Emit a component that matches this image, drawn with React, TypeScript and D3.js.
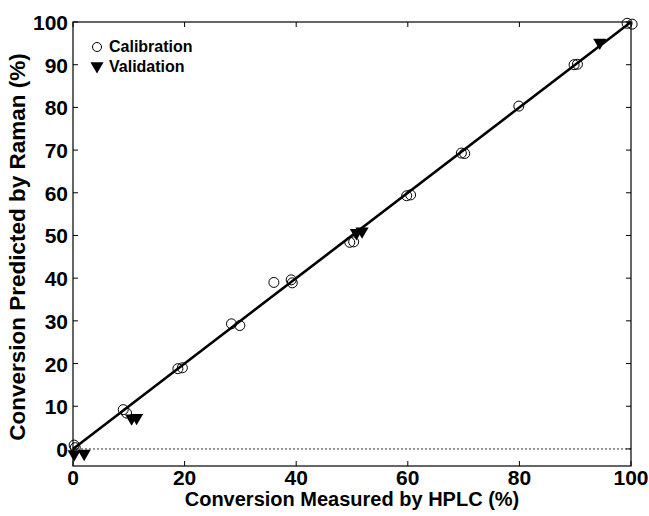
import React, { useEffect, useRef } from 'react';
import * as d3 from 'd3';

// calibration points (HPLC %, Raman %)
const calHplc = [0.2, 0.4, 9.0, 9.6, 18.8, 19.6, 28.4, 29.9, 36.0, 39.1, 39.3, 49.6, 50.3, 59.8, 60.5, 69.6, 70.2, 79.9, 89.8, 90.4, 99.3, 100.2];
const calRaman = [0.9, 0.3, 9.2, 8.4, 18.8, 19.0, 29.3, 28.9, 39.0, 39.6, 38.9, 48.4, 48.5, 59.3, 59.5, 69.3, 69.2, 80.3, 90.0, 90.1, 99.7, 99.5];

// validation points
const valHplc = [0.2, 2.0, 10.5, 11.4, 50.8, 51.8, 94.4];
const valRaman = [-1.2, -1.1, 7.2, 7.3, 50.6, 51.0, 95.2];

const xTicks = [0, 20, 40, 60, 80, 100];
const yTicks = [0, 10, 20, 30, 40, 50, 60, 70, 80, 90, 100];

const App = () => {
  const ref = useRef(null);

  useEffect(() => {
    d3.select(ref.current).select('svg').remove();

    const width = 649;
    const height = 516;
    const m = { top: 22, right: 18, bottom: 50, left: 73 };
    const font = '"Liberation Sans", Arial, sans-serif';

    const svg = d3.select(ref.current)
      .append('svg')
      .attr('width', width)
      .attr('height', height)
      .style('position', 'absolute')
      .style('left', 0)
      .style('top', 0)
      .style('background', '#fff');

    const x = d3.scaleLinear().domain([0, 100]).range([m.left, width - m.right]);
    const y = d3.scaleLinear().domain([-4, 100]).range([height - m.bottom, m.top]);

    // box
    svg.append('rect')
      .attr('x', m.left)
      .attr('y', m.top)
      .attr('width', width - m.left - m.right)
      .attr('height', height - m.top - m.bottom)
      .attr('fill', 'none')
      .attr('stroke', '#000')
      .attr('stroke-width', 1.2);

    const tl = 5;
    // ticks on all four sides, pointing inward
    xTicks.forEach(t => {
      svg.append('line').attr('x1', x(t)).attr('x2', x(t))
        .attr('y1', y.range()[0]).attr('y2', y.range()[0] - tl)
        .attr('stroke', '#000');
      svg.append('line').attr('x1', x(t)).attr('x2', x(t))
        .attr('y1', m.top).attr('y2', m.top + tl)
        .attr('stroke', '#000');
      svg.append('text')
        .attr('x', x(t))
        .attr('y', height - m.bottom + 19)
        .attr('text-anchor', 'middle')
        .style('font-family', font)
        .style('font-weight', 'bold')
        .style('font-size', '21px')
        .text(t);
    });

    yTicks.forEach(t => {
      svg.append('line').attr('x1', m.left).attr('x2', m.left + tl)
        .attr('y1', y(t)).attr('y2', y(t))
        .attr('stroke', '#000');
      svg.append('line').attr('x1', width - m.right).attr('x2', width - m.right - tl)
        .attr('y1', y(t)).attr('y2', y(t))
        .attr('stroke', '#000');
      svg.append('text')
        .attr('x', m.left - 5)
        .attr('y', y(t) + 8)
        .attr('text-anchor', 'end')
        .style('font-family', font)
        .style('font-weight', 'bold')
        .style('font-size', '21px')
        .text(t);
    });

    // zero reference line
    svg.append('line')
      .attr('x1', x(0)).attr('x2', x(100))
      .attr('y1', y(0)).attr('y2', y(0))
      .attr('stroke', '#000')
      .attr('stroke-width', 0.8)
      .attr('stroke-dasharray', '2,2');

    // 1:1 fit line
    svg.append('line')
      .attr('x1', x(0)).attr('x2', x(100))
      .attr('y1', y(0)).attr('y2', y(100))
      .attr('stroke', '#000')
      .attr('stroke-width', 2.6);

    svg.selectAll('circle.cal')
      .data(calHplc.map((h, i) => [h, calRaman[i]]))
      .enter()
      .append('circle')
      .attr('class', 'cal')
      .attr('cx', d => x(d[0]))
      .attr('cy', d => y(d[1]))
      .attr('r', 5)
      .attr('fill', 'none')
      .attr('stroke', '#000')
      .attr('stroke-width', 1);

    const tri = d3.symbol().type(d3.symbolTriangle).size(75);
    svg.selectAll('path.val')
      .data(valHplc.map((h, i) => [h, valRaman[i]]))
      .enter()
      .append('path')
      .attr('class', 'val')
      .attr('d', tri)
      .attr('transform', d => `translate(${x(d[0])},${y(d[1])}) rotate(180)`)
      .attr('fill', '#000');

    // legend
    svg.append('circle')
      .attr('cx', 97).attr('cy', 47).attr('r', 4.5)
      .attr('fill', 'none').attr('stroke', '#000');
    svg.append('path')
      .attr('d', tri)
      .attr('transform', 'translate(97,66) rotate(180)')
      .attr('fill', '#000');
    [['Calibration', 52], ['Validation', 72]].forEach(([label, ly]) => {
      svg.append('text')
        .attr('x', 109)
        .attr('y', ly)
        .style('font-family', font)
        .style('font-weight', 'bold')
        .style('font-size', '16px')
        .text(label);
    });

    // axis titles
    svg.append('text')
      .attr('x', (m.left + width - m.right) / 2)
      .attr('y', height - 10)
      .attr('text-anchor', 'middle')
      .style('font-family', font)
      .style('font-weight', 'bold')
      .style('font-size', '20px')
      .text('Conversion Measured by HPLC (%)');

    svg.append('text')
      .attr('transform', `translate(25,247) rotate(-90)`)
      .attr('text-anchor', 'middle')
      .style('font-family', font)
      .style('font-weight', 'bold')
      .style('font-size', '22.5px')
      .text('Conversion Predicted by Raman (%)');
  }, []);

  return <div ref={ref}></div>;
};

export default App;
